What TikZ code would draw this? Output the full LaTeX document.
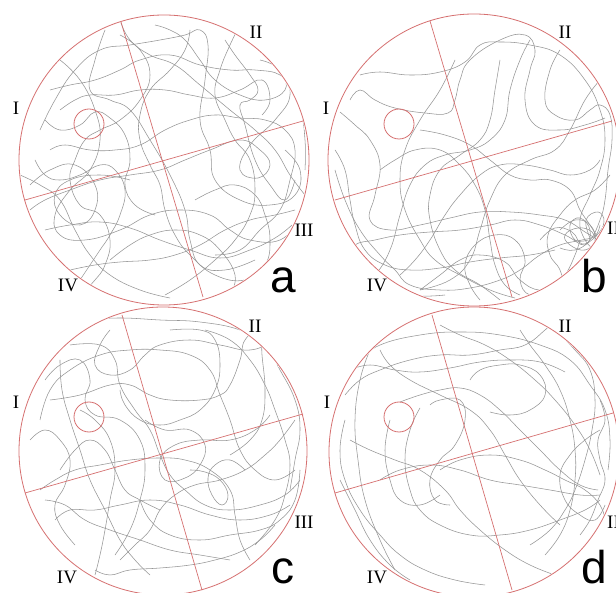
\documentclass[tikz,border=0pt]{standalone}
\usepackage{fontspec}
\setmainfont{Liberation Serif}
\newfontfamily\letterfont{Liberation Sans}
\definecolor{maze}{RGB}{214,112,112}
\definecolor{trail}{RGB}{150,150,150}
\tikzset{
  pool/.style={draw=maze, line width=0.8pt},
  quad/.style={draw=maze, line width=0.7pt},
  swim/.style={draw=trail, line width=0.55pt},
  quadlabel/.style={font=\fontsize{19}{19}\selectfont, inner sep=0pt},
  panellabel/.style={font=\letterfont\fontsize{46}{46}\selectfont, inner sep=0pt, anchor=base},
}
\newcommand{\trail}[1]{\draw[swim] plot[smooth, tension=0.75] coordinates {#1};}
\begin{document}
\begin{tikzpicture}[x=1pt,y=-1pt]
\useasboundingbox (0,0) rectangle (616,593);
\fill[white] (0,0) rectangle (616,593);

% ---------------- panel a ----------------
\begin{scope}
\clip (164,160) circle (144);
\trail{(40,130) (55,100) (75,70) (100,50) (130,45) (160,40) (185,35) (200,30) (208,45) (205,80) (200,120) (210,150) (215,180) (240,200) (270,205) (295,195) (300,170) (285,150)}
\trail{(30,210) (45,200) (70,190) (100,180) (130,175) (160,170) (185,160) (210,150) (240,140) (260,150) (270,165) (258,178) (240,170) (250,145) (275,120) (290,95) (280,70) (260,60)}
\trail{(60,60) (80,80) (95,110) (100,140) (90,170) (70,190) (55,215) (60,235) (85,240) (120,230) (150,215) (180,210) (210,215) (230,230) (250,240) (280,240) (300,220)}
\trail{(105,30) (95,60) (90,90) (110,100) (130,110) (150,140) (170,175) (185,210) (190,240) (200,265) (225,270) (255,260)}
\trail{(50,150) (65,145) (90,150) (115,150) (140,145) (165,130) (190,120) (215,115) (240,118) (265,120) (285,130) (295,150) (290,180) (280,210) (260,230) (240,250) (215,255)}
\trail{(155,25) (170,30) (185,40) (200,60) (215,80) (240,95) (265,100) (285,90) (280,75) (255,70) (230,70) (200,65) (170,55) (140,60) (120,70) (95,80) (70,85) (50,90)}
\trail{(120,35) (140,50) (150,75) (140,100) (120,120) (100,130) (85,140) (75,160) (70,180) (80,205) (100,215) (110,240) (105,265) (95,280) (85,290)}
\trail{(70,270) (95,265) (120,262) (150,260) (175,255) (200,245) (225,230) (250,220) (275,215) (295,210)}
\trail{(190,30) (185,50) (170,70) (150,90) (140,115) (140,140) (150,165) (160,185) (165,210) (175,235) (190,255) (215,275) (245,280) (265,265) (270,240) (265,215) (255,195) (235,185) (215,190) (195,200)}
\trail{(35,160) (45,175) (60,180) (80,175) (100,165) (115,170) (125,190) (120,215) (110,235) (100,250) (90,265) (80,280)}
\trail{(225,40) (235,55) (250,75) (258,90) (250,100) (240,105) (245,125) (255,160) (270,185) (285,200) (295,180)}
\trail{(60,110) (75,100) (90,95) (115,95) (140,90) (165,90) (190,95) (215,98) (240,90) (262,80) (270,100) (262,115)}
\trail{(45,230) (70,225) (100,222) (130,228) (160,240) (190,250) (220,258) (250,250) (275,238) (292,225)}
\trail{(110,260) (130,245) (150,235) (175,230) (200,235) (220,250) (235,275) (230,295)}
\trail{(30,185) (50,170) (75,165) (95,185) (95,210) (80,225) (60,215) (55,195) (70,180) (100,175) (130,180)}
\trail{(120,20) (130,40) (150,55) (175,65) (200,85) (230,110) (255,130) (275,150) (290,175) (305,195)}
\trail{(20,175) (40,185) (60,200) (75,230) (90,255) (110,275) (140,290) (170,298)}
\trail{(240,25) (230,45) (220,70) (215,95) (225,120) (235,140) (250,160) (255,190) (250,215) (235,240) (215,260) (190,280) (165,295)}
\trail{(275,60) (285,80) (300,110) (305,140) (305,170)}
\trail{(45,120) (60,130) (80,125) (95,112) (110,118) (125,135) (130,160) (125,185) (135,205) (155,215)}
\end{scope}
\draw[pool] (164,160) circle (145);
\draw[quad] (121,22) -- (203,297);
\draw[quad] (25,200) -- (303,121);
\draw[pool] (89,124) circle (15);
\node[quadlabel] (aI) at (16,108) {I};
\node[quadlabel] (aII) at (256,32) {II};
\node[quadlabel] (aIII) at (304,230) {III};
\node[quadlabel] (aIV) at (68,285) {IV};
\node[panellabel] (la) at (283,293) {a};

% ---------------- panel b ----------------
\begin{scope}
\clip (474,160) circle (145);
\trail{(360,75) (380,72) (410,75) (440,72) (465,62) (480,45) (500,42) (530,45) (560,55) (585,80) (600,110) (605,140) (600,170) (590,195) (580,220) (585,240) (595,250)}
\trail{(350,100) (360,90) (375,100) (395,108) (425,113) (448,113) (455,100) (460,80) (470,60) (500,40) (525,35) (535,50) (530,70) (525,100) (535,125) (560,130) (585,125) (605,118)}
\trail{(340,112) (355,125) (370,140) (380,165) (375,195) (370,220) (390,230) (420,225) (450,218) (480,212) (510,212) (540,215) (565,220) (585,232) (595,238)}
\trail{(335,170) (345,200) (360,230) (380,255) (395,270) (410,285) (440,290) (470,288) (500,280) (520,270) (540,255) (560,245) (582,240) (595,236) (600,225)}
\trail{(455,60) (440,90) (420,120) (405,150) (400,180) (405,210) (420,240) (435,260) (460,275) (490,290) (515,298)}
\trail{(530,40) (520,60) (510,90) (505,120) (490,140) (470,150) (445,155) (425,165) (410,185) (400,215) (390,250) (375,275) (360,285)}
\trail{(560,50) (550,70) (545,100) (555,115) (575,120) (590,110) (600,105) (610,115) (612,140) (608,170) (605,200) (600,220) (590,240) (575,250) (560,248)}
\trail{(345,260) (355,245) (375,240) (400,235) (430,232) (460,230) (490,225) (515,220) (540,225) (565,235) (585,245) (590,230) (580,218) (570,225) (575,240) (588,240)}
\trail{(480,300) (470,285) (465,265) (475,245) (495,235) (515,240) (525,260) (520,280) (530,295) (550,290) (565,275) (575,255) (580,240)}
\trail{(420,130) (445,135) (470,145) (490,160) (510,175) (530,180) (550,180) (570,190) (580,210) (590,225) (598,238)}
\trail{(380,170) (395,160) (415,150) (440,150) (460,165) (475,185) (485,210) (490,240) (495,265) (505,285) (520,295)}
\trail{(600,160) (590,170) (570,175) (550,170) (525,165) (500,165) (480,175) (460,195) (445,215) (430,240) (415,260) (400,275)}
\trail{(560,230) (575,220) (590,225) (595,240) (585,250) (570,245) (565,235) (578,228) (592,232) (598,245) (600,235)}
\trail{(540,240) (555,228) (572,232) (582,244) (596,236) (604,222) (598,212) (586,220) (590,238)}
\trail{(350,255) (365,270) (380,282) (395,292) (420,296) (445,295)}
\trail{(600,80) (585,100) (570,130) (555,150) (530,160) (505,175) (490,200) (480,230) (470,260) (450,280) (420,290)}
\trail{(335,150) (345,170) (350,200) (355,225) (365,250) (385,265) (410,270) (440,268) (470,262) (500,258) (530,255) (555,250)}
\trail{(500,60) (495,90) (490,120) (480,140) (460,155) (440,170) (430,195) (430,220) (440,250) (455,270) (480,285) (500,300)}
\trail{(610,175) (595,190) (575,200) (560,215) (548,235) (550,255) (560,270) (565,290)}
\trail{(420,290) (440,275) (460,260) (480,255) (505,262) (520,280) (540,290) (560,282) (575,265)}
\end{scope}
\draw[pool] (474,160) circle (146);
\draw[quad] (430,21) -- (512,297);
\draw[quad] (335,200) -- (612,121);
\draw[pool] (399,124) circle (15);
\node[quadlabel] (bI) at (326,108) {I};
\node[quadlabel] (bII) at (565,32) {II};
\node[quadlabel, anchor=west] (bIII) at (607,228) {III};
\node[quadlabel] (bIV) at (377,285) {IV};
\node[panellabel] (lb) at (594,293) {b};

% ---------------- panel c ----------------
\begin{scope}
\clip (163,451) circle (143);
\trail{(40,420) (50,390) (70,370) (100,355) (130,350) (160,350) (190,355) (210,370) (220,395) (230,420) (240,450) (255,470) (275,480) (295,470)}
\trail{(60,360) (62,390) (70,420) (80,450) (90,480) (105,510) (120,540) (135,560) (150,575)}
\trail{(50,400) (80,395) (110,385) (130,385) (150,395) (170,400) (200,400) (220,395) (230,385) (240,360) (245,340) (260,330) (262,355) (265,390) (262,420) (250,440) (230,455)}
\trail{(85,320) (120,318) (160,320) (200,322) (240,330) (265,345) (280,370) (295,400) (300,430) (295,460) (290,490)}
\trail{(70,345) (100,345) (115,360) (120,385) (135,410) (150,430) (160,455) (170,475) (185,490) (205,505) (230,510) (260,505) (285,495) (300,480)}
\trail{(40,490) (55,480) (75,470) (100,465) (130,460) (160,458) (185,460) (210,470) (230,490) (235,515) (240,540) (250,560)}
\trail{(55,520) (70,510) (95,510) (120,505) (150,500) (180,505) (210,515) (240,520) (270,515) (290,505)}
\trail{(80,410) (95,420) (110,440) (115,470) (110,500) (105,530) (100,555) (95,575)}
\trail{(140,500) (150,520) (170,535) (200,540) (230,535) (260,530) (280,520) (295,500) (300,470)}
\trail{(190,470) (205,472) (220,480) (228,495) (222,505) (212,495) (208,478) (215,465) (230,460) (245,470)}
\trail{(60,470) (75,450) (90,440) (105,450) (115,470) (125,490) (140,500) (160,510)}
\trail{(120,560) (135,545) (150,530) (160,510) (175,495) (195,485) (220,480) (245,470) (265,455) (280,440) (295,420)}
\trail{(95,570) (110,575) (130,570) (160,568) (190,565) (215,560) (240,552) (260,540) (275,525)}
\trail{(170,330) (200,330) (215,340) (220,365) (215,390) (200,410) (180,420) (160,425) (140,420) (125,405) (120,390)}
\trail{(45,380) (60,365) (80,360) (90,380) (85,400) (95,415) (120,420) (140,440) (145,470) (140,500) (130,530) (115,555)}
\trail{(30,440) (45,430) (60,440) (70,460) (65,485) (55,505) (60,525) (75,545)}
\trail{(110,330) (100,345) (95,365) (110,375) (130,370) (145,355) (160,345) (190,340) (220,345) (250,350) (270,340) (280,320)}
\trail{(205,330) (230,340) (250,360) (265,385) (275,410) (285,440) (290,465) (285,495) (275,520) (255,545)}
\trail{(45,500) (65,505) (85,520) (110,530) (140,540) (170,550) (200,555) (230,560)}
\trail{(145,420) (165,430) (190,430) (205,445) (200,465) (185,478) (165,480) (160,460) (175,445) (200,440) (230,440) (255,430) (270,415)}
\end{scope}
\draw[pool] (163,451) circle (144);
\draw[quad] (122,315) -- (202,590);
\draw[quad] (25,493) -- (303,414);
\draw[pool] (89,417) circle (15);
\node[quadlabel] (cI) at (16,402) {I};
\node[quadlabel] (cII) at (255,326) {II};
\node[quadlabel] (cIII) at (304,522) {III};
\node[quadlabel] (cIV) at (67,577) {IV};
\node[panellabel] (lc) at (283,583) {c};

% ---------------- panel d ----------------
\begin{scope}
\clip (474,452) circle (144);
\trail{(360,360) (380,345) (420,335) (460,332) (500,335) (540,345) (570,360) (590,385) (605,410) (610,440) (608,470)}
\trail{(345,395) (360,380) (380,370) (410,360) (440,355) (470,355) (500,350) (525,345) (545,330) (555,320)}
\trail{(370,350) (360,380) (355,420) (358,460) (365,500) (380,540) (395,570)}
\trail{(420,408) (410,430) (405,460) (410,490) (420,510) (440,525) (470,535) (500,535) (530,530) (560,520) (585,510) (600,500)}
\trail{(430,405) (440,400) (460,400) (465,420) (455,445) (440,460) (430,480) (435,500) (450,505)}
\trail{(400,402) (420,395) (440,390) (460,388) (480,395) (500,410) (520,430) (540,450) (560,470) (580,485) (598,490)}
\trail{(380,480) (400,470) (430,465) (460,470) (490,480) (520,485) (550,490) (580,495) (600,495)}
\trail{(350,440) (370,450) (395,460) (420,470) (445,490) (460,510) (480,530) (505,550) (530,565) (555,575)}
\trail{(340,480) (355,510) (370,540) (390,565) (410,580)}
\trail{(560,335) (575,350) (590,370) (595,400) (592,430) (585,460) (575,490) (565,510) (550,530) (530,545)}
\trail{(440,470) (460,460) (490,455) (520,460) (545,470) (565,480) (585,490) (600,505) (605,520)}
\trail{(470,380) (480,370) (500,365) (520,365) (540,375) (545,395) (530,410) (510,415) (490,412)}
\trail{(600,400) (605,420) (598,440) (600,460) (605,480) (598,500) (590,520) (580,535)}
\trail{(380,350) (390,365) (410,380) (440,395) (470,410) (490,430) (505,455) (520,480) (540,505) (560,525)}
\trail{(350,370) (370,365) (395,370) (420,372) (450,368) (480,362) (510,360) (540,362) (565,372)}
\trail{(345,420) (340,450) (345,480) (360,510) (380,535) (400,555) (425,570) (455,580) (485,585)}
\trail{(440,325) (460,335) (485,345) (510,360) (535,380) (555,400) (575,425) (590,450) (600,475)}
\trail{(600,430) (585,440) (570,455) (560,475) (565,500) (580,515) (595,520) (605,505)}
\trail{(390,420) (385,450) (390,480) (400,500) (420,505) (440,495)}
\trail{(520,330) (530,345) (545,365) (560,390) (570,420) (575,450) (575,480) (570,510) (560,535) (545,555)}
\end{scope}
\draw[pool] (474,452) circle (145);
\draw[quad] (432,315) -- (512,590);
\draw[quad] (335,493) -- (613,413);
\draw[pool] (399,417) circle (15);
\node[quadlabel] (dI) at (327,402) {I};
\node[quadlabel] (dII) at (565,326) {II};
\node[quadlabel, anchor=west] (dIII) at (607,522) {III};
\node[quadlabel] (dIV) at (377,577) {IV};
\node[panellabel] (ld) at (594,583) {d};
\end{tikzpicture}
\end{document}
